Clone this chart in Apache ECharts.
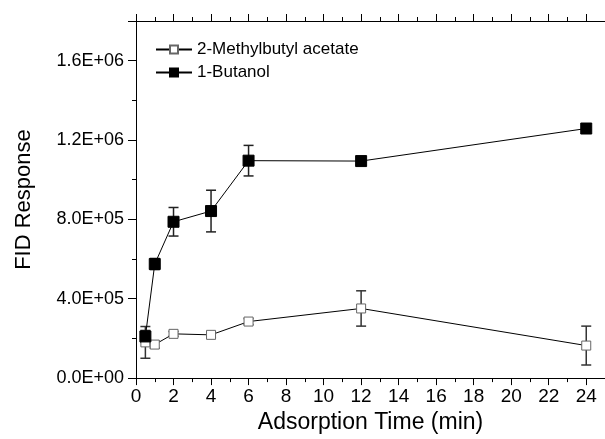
<!DOCTYPE html>
<html>
<head>
<meta charset="utf-8">
<script src="https://cdn.jsdelivr.net/npm/echarts@6/dist/echarts.min.js"></script>
<style>
  html, body { margin: 0; padding: 0; background: #fff; }
  #main { width: 605px; height: 439px; }
</style>
</head>
<body>
<div id="main"></div>
<script>
// adsorption time (min)
const times = [0.5, 1, 2, 4, 6, 12, 24]
// FID response
const methylbutyl = [180000, 169000, 223000, 218000, 285000, 351000, 164000]
const methylbutylErr = [80000, 18000, 12000, 12000, 15000, 89000, 98000]
const butanol = [210000, 575000, 788000, 842000, 1096000, 1094000, 1258000]
const butanolErr = [30000, 28000, 72000, 105000, 77000, 6000, 6000]

const font = 'Liberation Sans, Arial, sans-serif'

function sci(v) {
  const parts = v.toExponential(1).split('e')
  let exp = parts[1]
  const sign = exp[0] === '-' ? '-' : '+'
  exp = exp.replace(/[+-]/, '')
  if (exp.length < 2) exp = '0' + exp
  return parts[0] + 'E' + sign + exp
}

function bars(values, errs) {
  return times.map((t, i) => [t, values[i] - errs[i], values[i] + errs[i]])
}

function errorBar(color, cap) {
  return function (params, api) {
    const lo = api.coord([api.value(0), api.value(1)])
    const hi = api.coord([api.value(0), api.value(2)])
    const style = { stroke: color, lineWidth: 1.5 }
    return {
      type: 'group',
      children: [
        { type: 'line', shape: { x1: lo[0], y1: lo[1], x2: hi[0], y2: hi[1] }, style: style },
        { type: 'line', shape: { x1: lo[0] - cap, y1: lo[1], x2: lo[0] + cap, y2: lo[1] }, style: style },
        { type: 'line', shape: { x1: hi[0] - cap, y1: hi[1], x2: hi[0] + cap, y2: hi[1] }, style: style }
      ]
    }
  }
}

const myChart = echarts.init(document.getElementById('main'))

const xBase = {
  type: 'value',
  min: 0,
  max: 25,
  interval: 2,
  axisLine: { lineStyle: { color: '#000', width: 1 } },
  axisTick: { length: 7, lineStyle: { color: '#000' } },
  minorTick: { show: true, splitNumber: 2, length: 4, lineStyle: { color: '#000' } },
  splitLine: { show: false }
}

const options = {
  animation: false,
  grid: { left: 136, top: 21, width: 471, height: 364.5 },
  legend: {
    left: 150,
    top: 36,
    orient: 'vertical',
    itemWidth: 36,
    itemHeight: 10,
    itemGap: 6,
    textStyle: { fontFamily: font, fontSize: 17, color: '#000' },
    data: ['2-Methylbutyl acetate', '1-Butanol']
  },
  xAxis: [
    Object.assign({}, xBase, {
      position: 'bottom',
      name: 'Adsorption Time (min)',
      nameLocation: 'middle',
      nameGap: 28,
      nameTextStyle: { fontFamily: font, fontSize: 23, color: '#000' },
      axisLabel: { fontFamily: font, fontSize: 19, color: '#000', margin: 9, showMaxLabel: false }
    }),
    Object.assign({}, xBase, {
      position: 'top',
      axisLabel: { show: false }
    })
  ],
  yAxis: {
    type: 'value',
    min: 0,
    max: 1800000,
    interval: 400000,
    name: 'FID Response',
    nameLocation: 'middle',
    nameGap: 101,
    nameTextStyle: { fontFamily: font, fontSize: 22, color: '#000' },
    axisLine: { show: true, lineStyle: { color: '#000', width: 1 } },
    axisTick: { show: true, length: 8, lineStyle: { color: '#000' } },
    minorTick: { show: true, splitNumber: 2, length: 4, lineStyle: { color: '#000' } },
    splitLine: { show: false },
    axisLabel: {
      fontFamily: font,
      fontSize: 18,
      color: '#000',
      margin: 12,
      showMaxLabel: false,
      formatter: sci
    }
  },
  series: [
    {
      name: 'methylbutyl-err',
      type: 'custom',
      renderItem: errorBar('#333', 5),
      encode: { x: 0, y: [1, 2] },
      data: bars(methylbutyl, methylbutylErr),
      z: 2
    },
    {
      name: 'butanol-err',
      type: 'custom',
      renderItem: errorBar('#222', 5),
      encode: { x: 0, y: [1, 2] },
      data: bars(butanol, butanolErr),
      z: 2
    },
    {
      name: '2-Methylbutyl acetate',
      type: 'line',
      data: times.map((t, i) => [t, methylbutyl[i]]),
      symbol: 'rect',
      symbolSize: 9,
      lineStyle: { color: '#000', width: 1 },
      itemStyle: { color: '#fff', borderColor: '#666', borderWidth: 1 },
      z: 3
    },
    {
      name: '1-Butanol',
      type: 'line',
      data: times.map((t, i) => [t, butanol[i]]),
      symbol: 'rect',
      symbolSize: 11,
      lineStyle: { color: '#000', width: 1 },
      itemStyle: { color: '#000', borderColor: '#000', borderWidth: 1 },
      z: 4
    }
  ]
}

myChart.setOption(options)
</script>
</body>
</html>
